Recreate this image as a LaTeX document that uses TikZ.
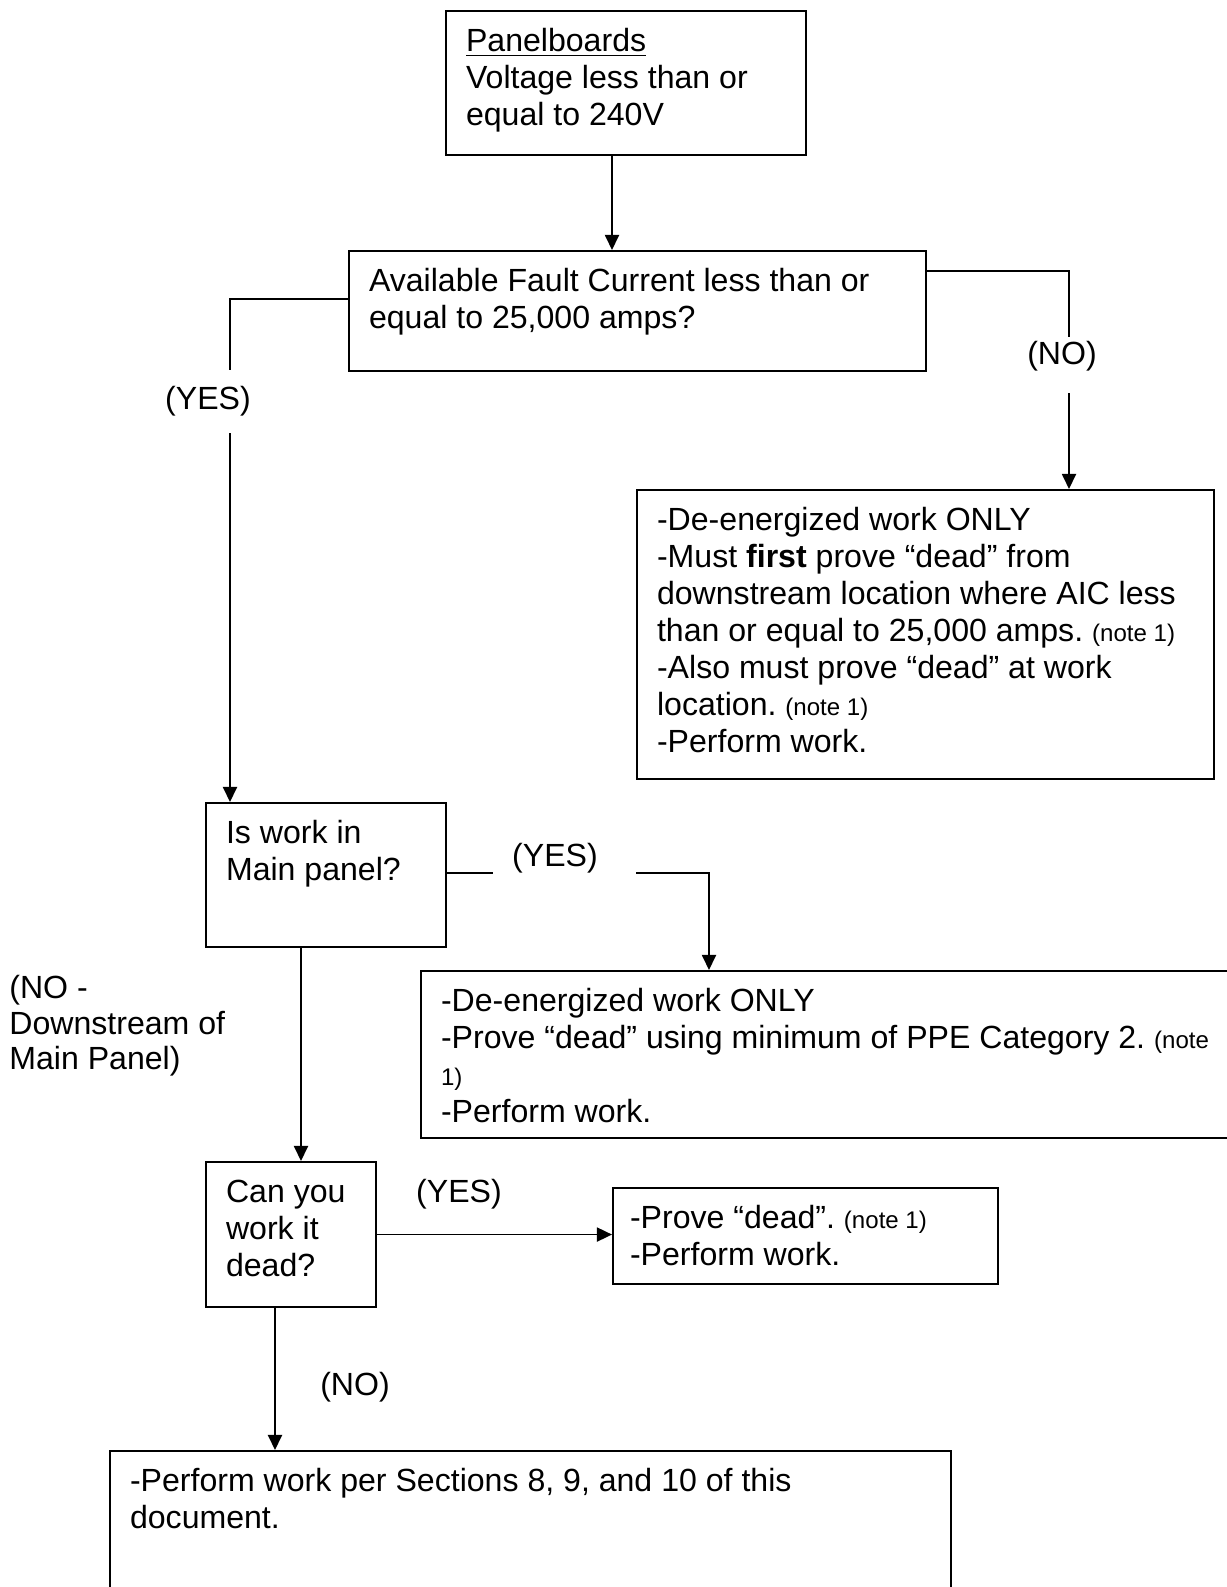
\documentclass[tikz,border=0pt]{standalone}
\usepackage{fontspec}
\setmainfont{Liberation Sans}
\usepackage{tikz}
\usetikzlibrary{arrows.meta}
\usetikzlibrary{calc}
\frenchspacing
\newlength{\pxu}
\setlength{\pxu}{0.4988pt}
\tikzstyle{blk}=[draw, line width=1pt, anchor=north west, inner xsep=10pt, inner ysep=7.5pt, font=\fontsize{16}{18.45}\selectfont]
\tikzstyle{lbl}=[inner sep=0pt, anchor=base, font=\fontsize{16}{18.45}\selectfont]
\tikzstyle{wire}=[draw, line width=0.9pt]
\tikzstyle{tran}=[draw, line width=0.9pt, -{Triangle[length=7.5pt,width=7pt]}]
\newcommand{\boxtext}[3]{\parbox[c][#2\pxu][t]{#1\pxu}{\raggedright\frenchspacing\strut #3}}
\newcommand{\nt}[1]{{\fontsize{12}{14}\selectfont #1}}

\begin{document}
\begin{tikzpicture}[x=0.4988pt, y=-0.4988pt]
\useasboundingbox (0,0) rectangle (1227,1587);
\clip (0,0) rectangle (1227,1587);

\node[blk] (pb) at (445,10) {\boxtext{320}{114}{\underline{Panelboards}\\Voltage less than or\\equal to 240V}};
\node[blk] (fault) at (348,250) {\boxtext{537}{90}{Available Fault Current less than or\\equal to 25,000 amps?}};
\node[blk] (deonly) at (636,489) {\boxtext{537}{259}{-De-energized work ONLY\\-Must \textbf{first} prove “dead” from\\downstream location where AIC less\\than or equal to 25,000 amps. \nt{(note 1)}\\-Also must prove “dead” at work\\location. \nt{(note 1)}\\-Perform work.}};
\node[blk] (mainq) at (205,802) {\boxtext{200}{114}{Is work in\\Main panel?}};
\node[blk] (ppe) at (420,970) {\boxtext{800}{137}{-De-energized work ONLY\\-Prove “dead” using minimum of PPE Category 2. \nt{(note}\\\nt{1)}\\-Perform work.}};
\node[blk] (deadq) at (205,1161) {\boxtext{130}{115}{Can you\\work it\\dead?}};
\node[blk, inner xsep=8.5pt] (prove) at (612,1187) {\boxtext{351}{66}{-Prove “dead”. \nt{(note 1)}\\-Perform work.}};
\node[blk] (sect) at (109,1450) {\boxtext{801}{150}{-Perform work per Sections 8, 9, and 10 of this\\document.}};

% labels
\node[lbl] (yes1) at (208,409) {(YES)};
\node[lbl] (no1) at (1062,364) {(NO)};
\node[lbl] (yes2) at (555,866) {(YES)};
\node[lbl, anchor=north west, align=left, font=\fontsize{16}{17.8}\selectfont] (nodown) at (9,973) {\strut(NO -\\Downstream of\\Main Panel)};
\node[lbl] (yes3) at (459,1202) {(YES)};
\node[lbl] (no2) at (355,1395) {(NO)};

% bend points
\coordinate (c1) at (612,200);
\coordinate (yesL) at (230,299);
\coordinate (yesLend) at (230,370);
\coordinate (yesLgap) at (230,433);
\coordinate (noR) at (1069,271);
\coordinate (noRend) at (1069,337);
\coordinate (noRgap) at (1069,393);
\coordinate (yesM) at (493,873);
\coordinate (yesMgap) at (636,873);
\coordinate (yesMturn) at (709,873);
\coordinate (noM) at (301,1050);
\coordinate (noD) at (275,1380);

\draw[tran] (pb.south -| c1) -- (fault.north -| c1);
\draw[wire] (fault.west |- yesL) -- (yesL) -- (yesLend);
\draw[tran] (yesLgap) -- (yesLgap |- mainq.north);
\draw[wire] (fault.east |- noR) -- (noR) -- (noRend);
\draw[tran] (noRgap) -- (noRgap |- deonly.north);
\draw[wire] (mainq.east |- yesM) -- (yesM);
\draw[tran] (yesMgap) -- (yesMturn) -- (yesMturn |- ppe.north);
\draw[tran] (mainq.south -| noM) -- (deadq.north -| noM);
\draw[tran] (deadq.east) -- (deadq.east -| prove.west);
\draw[tran] (deadq.south -| noD) -- (sect.north -| noD);
\end{tikzpicture}
\end{document}
